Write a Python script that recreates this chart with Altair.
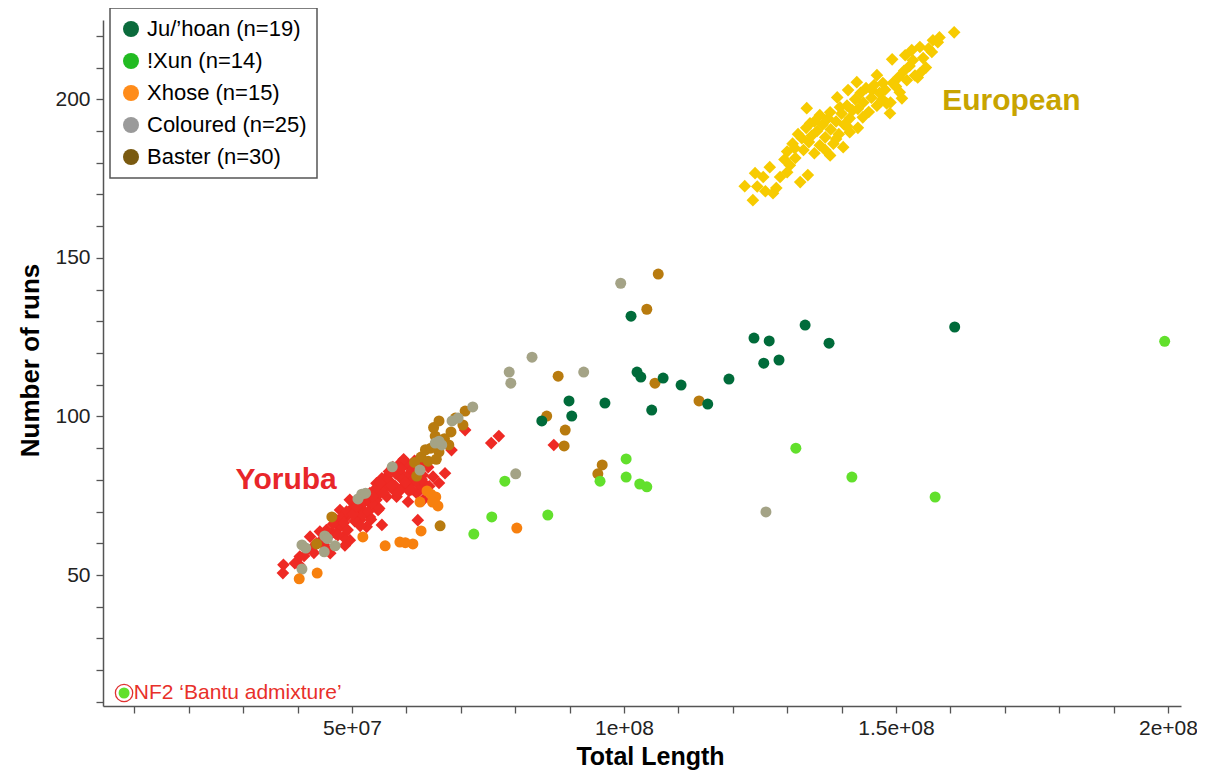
import altair as alt
import pandas as pd

# ---------------- data (Total Length in Mb, Number of runs) ----------------
GROUPS = ["Ju/’hoan (n=19)", "!Xun (n=14)", "Xhose (n=15)", "Coloured (n=25)", "Baster (n=30)"]
POINT_COLORS = ["#006b3a", "#62e02c", "#f7800e", "#a4a386", "#b87b0f"]
LEGEND_COLORS = ["#0b6b3c", "#22bb22", "#ff8c1a", "#9a9a9a", "#7a5a10"]

JU_X = [101.3, 102.4, 103.1, 107.2, 110.5, 119.3, 115.4, 105.1, 96.5, 89.9, 90.4, 84.9,
        133.3, 123.9, 126.7, 137.7, 125.7, 128.5, 160.8]
JU_Y = [131.6, 114.0, 112.4, 112.1, 109.9, 111.8, 103.9, 102.0, 104.2, 104.9, 100.1, 98.6,
        128.8, 124.7, 123.8, 123.1, 116.8, 117.8, 128.2]

XUN_X = [72.4, 75.7, 86.0, 78.1, 95.6, 100.4, 100.4, 102.9, 104.2, 131.6, 141.9, 157.2, 199.4, 8.1]
XUN_Y = [62.9, 68.3, 68.9, 79.6, 79.6, 86.6, 80.9, 78.7, 77.8, 90.0, 80.9, 74.6, 123.7, 12.8]

XH_X = [40.3, 43.6, 52.0, 56.1, 58.8, 61.2, 62.7, 63.8, 65.4, 65.8, 62.5, 80.3, 64.5, 64.8, 59.8]
XH_Y = [48.8, 50.6, 62.0, 59.2, 60.4, 59.8, 63.9, 76.5, 74.6, 71.8, 73.0, 64.8, 75.5, 73.0, 60.2]

CO_X = [99.4, 83.1, 78.9, 79.2, 92.6, 72.2, 68.4, 65.3, 66.5, 80.1, 57.4, 62.5, 51.8, 51.1,
        45.0, 46.9, 40.8, 44.9, 40.8, 126.1, 66.0, 69.5, 45.5, 52.5, 41.5]
CO_Y = [142.0, 118.7, 114.0, 110.5, 114.0, 103.0, 98.6, 91.6, 91.0, 81.9, 84.1, 83.1, 75.5, 74.0,
        62.3, 59.2, 59.5, 57.3, 51.9, 69.9, 92.2, 99.5, 61.5, 75.8, 58.5]

BA_X = [106.3, 104.2, 87.9, 105.7, 113.8, 89.2, 89.0, 85.8, 96.0, 95.2, 70.8, 66.0, 70.4, 68.2,
        65.3, 67.8, 66.0, 62.7, 64.0, 61.9, 66.2, 46.3, 65.0, 67.0, 69.0, 63.5, 64.5, 43.5, 61.5, 65.5]
BA_Y = [144.9, 133.8, 112.7, 110.5, 104.9, 95.7, 90.7, 100.1, 84.7, 81.9, 101.7, 98.6, 97.3, 95.1,
        93.8, 91.0, 88.8, 87.2, 85.9, 81.2, 65.5, 68.3, 96.5, 93.0, 99.5, 89.5, 90.0, 59.8, 85.5, 86.5]

YO_X = [37.4, 37.3, 40.3, 40.4, 41.7, 42.9, 44.4, 45.3, 46.3, 47.8, 48.7, 49.0, 50.9, 51.5, 53.3,
        52.7, 55.5, 54.5, 56.4, 57.6, 58.8, 60.1, 59.4, 61.3, 61.9, 63.1, 64.9, 67.1, 68.3, 70.8,
        75.6, 77.0, 87.1, 58.2, 56.4, 54.5, 51.5, 49.6, 47.8, 47.2, 45.3, 43.5, 39.5, 42.3, 44.1,
        53.3, 55.1, 60.3, 57.6, 54.8, 51.5, 49.6, 46.0, 48.4, 62.5, 60.3, 58.8, 62.1, 53.3, 52.0,
        57.0, 58.0, 59.0, 60.0, 61.0, 62.0, 63.0, 58.5, 60.5, 62.5, 56.0, 57.5, 59.5, 64.0, 61.5,
        63.5, 55.5, 66.0, 50.0, 51.0, 52.0, 53.0, 52.5, 54.0, 50.5, 49.0, 51.5, 48.0, 53.5, 55.0,
        46.5, 47.0, 56.5, 58.0, 59.8, 61.0, 57.2, 55.8, 54.2, 52.2, 50.2, 48.5, 45.0, 43.0, 41.2,
        62.8, 64.2, 59.0, 56.8, 55.2, 53.8, 50.8, 49.2, 47.4, 44.8]
YO_Y = [53.2, 50.6, 53.2, 55.8, 57.9, 58.9, 61.0, 58.4, 63.2, 65.2, 59.3, 68.4, 69.5, 71.5, 72.6,
        65.2, 65.8, 78.9, 81.0, 83.1, 85.2, 81.0, 77.8, 80.0, 75.8, 73.7, 81.0, 82.1, 89.4, 95.7,
        91.6, 93.8, 91.0, 74.7, 74.7, 73.7, 74.7, 73.7, 70.5, 67.3, 64.2, 60.0, 53.7, 62.1, 63.7,
        75.8, 75.8, 73.1, 76.8, 70.5, 67.3, 61.0, 56.9, 62.1, 84.7, 84.7, 82.5, 67.3, 68.3, 70.5,
        79.5, 78.0, 80.5, 78.5, 83.0, 79.0, 81.5, 76.0, 76.5, 77.0, 77.5, 84.0, 86.5, 84.0, 86.0,
        78.5, 80.5, 79.0, 71.0, 72.5, 69.0, 70.0, 74.0, 72.0, 67.0, 70.0, 65.5, 68.0, 67.5, 71.0,
        66.0, 63.0, 80.0, 82.0, 79.2, 77.0, 78.2, 76.0, 77.0, 73.0, 69.2, 66.5, 61.0, 57.0, 56.0,
        80.2, 78.0, 83.5, 82.6, 79.0, 74.8, 71.6, 64.2, 62.6, 59.6]

EU_X = [160.7, 157.7, 156.6, 156.8, 154.4, 152.9, 151.7, 153.1, 149.3, 154.4, 154.0, 146.5, 147.6,
        145.6, 149.4, 150.7, 151.1, 148.3, 148.9, 142.8, 141.2, 139.2, 139.7, 137.9, 136.0, 133.6,
        143.9, 141.5, 140.3, 137.9, 134.2, 132.7, 131.4, 130.5, 133.8, 132.4, 126.8, 125.6, 124.1,
        122.2, 123.7, 127.4, 128.7,
        129.5, 130.0, 131.0, 131.5, 132.0, 133.0, 133.5, 134.0, 134.5, 135.0, 135.5, 136.0, 136.5,
        137.0, 137.5, 138.0, 138.5, 139.0, 139.5, 140.0, 140.5, 141.0, 141.5, 142.0, 142.5, 143.0,
        143.5, 144.0, 144.5, 145.0, 145.5, 146.0, 146.5, 147.0, 147.5, 148.0, 149.0, 150.0, 150.5,
        151.5, 152.0, 152.5, 153.5, 155.0, 155.5, 156.0, 158.0, 130.0, 128.0, 126.0, 124.5, 135.0,
        137.0, 139.0, 143.0, 141.0]
EU_Y = [221.1, 218.0, 214.9, 218.6, 216.5, 215.5, 213.9, 212.3, 212.6, 208.2, 206.9, 207.6, 205.1,
        202.9, 205.1, 202.2, 200.3, 198.7, 195.6, 205.4, 202.9, 200.6, 197.5, 195.9, 195.0, 197.2,
        194.3, 189.6, 184.9, 182.3, 192.4, 187.7, 184.6, 179.2, 176.1, 173.9, 178.6, 175.5, 176.7,
        172.6, 168.2, 170.4, 175.5,
        181.0, 183.5, 186.0, 181.5, 189.0, 184.0, 191.0, 186.5, 188.5, 193.0, 190.0, 185.5, 192.0,
        188.0, 194.0, 190.5, 186.0, 193.0, 189.0, 195.5, 192.0, 198.0, 194.0, 196.5, 200.0, 197.0,
        202.0, 199.0, 203.5, 196.0, 200.5, 204.5, 198.0, 202.0, 200.0, 203.0, 199.0, 204.0, 207.0,
        209.0, 206.0, 210.5, 207.5, 213.0, 210.0, 216.0, 219.5, 177.0, 172.0, 171.0, 172.5, 183.0,
        184.0, 187.5, 191.0, 191.5]

# annotations (Mb, runs)
LABELS = ["European", "Yoruba", "NF2 ‘Bantu admixture’"]
LABEL_X = [158.5, 37.9, 9.9]
LABEL_Y = [199.4, 80.0, 12.8]
NF2_INDEX = 13  # NF2 is the last !Xun sample

# axis ticks
X_TICKS = [10e6, 20e6, 30e6, 40e6, 50e6, 60e6, 70e6, 80e6, 90e6, 100e6, 110e6, 120e6, 130e6,
           140e6, 150e6, 160e6, 170e6, 180e6, 190e6, 200e6]
X_LABEL_VALUES = [50e6, 100e6, 150e6, 200e6]
X_LABEL_TEXT = ["5e+07", "1e+08", "1.5e+08", "2e+08"]
Y_TICKS = [10, 20, 30, 40, 50, 60, 70, 80, 90, 100, 110, 120, 130, 140, 150, 160, 170, 180,
           190, 200, 210, 220]

MB = 1e6

def frame(xs, ys, group=None):
    d = pd.DataFrame({"x": [v * MB for v in xs], "y": ys})
    if group is not None:
        d["group"] = group
    return d

# draw order: Baster, Coloured, Xhose, !Xun, Ju/'hoan
circ = pd.concat([
    frame(BA_X, BA_Y, GROUPS[4]),
    frame(CO_X, CO_Y, GROUPS[3]),
    frame(XH_X, XH_Y, GROUPS[2]),
    frame(XUN_X, XUN_Y, GROUPS[1]),
    frame(JU_X, JU_Y, GROUPS[0]),
], ignore_index=True)
eu = frame(EU_X, EU_Y)
yo = frame(YO_X, YO_Y)
nf2 = frame([XUN_X[NF2_INDEX]], [XUN_Y[NF2_INDEX]])
lab = pd.DataFrame({"x": [v * MB for v in LABEL_X], "y": LABEL_Y, "text": LABELS})

FONT = "Liberation Sans"
x_expr = " : ".join(f"datum.value == {int(v)} ? '{t}'" for v, t in zip(X_LABEL_VALUES, X_LABEL_TEXT)) + " : ''"

X = alt.X("x:Q", title="Total Length",
          scale=alt.Scale(domain=[4.23e6, 2.024e8], nice=False, zero=False),
          axis=alt.Axis(values=X_TICKS, labelExpr=x_expr, grid=False, labelOverlap=False,
                        domainColor="#555555", domainWidth=1.5, tickColor="#555555", tickWidth=1.3,
                        tickSize=7, labelFont=FONT, labelFontSize=21, labelColor="#222222",
                        labelPadding=4, titleFont=FONT, titleFontSize=25, titleFontWeight="bold",
                        titleColor="black", titleX=547, titleY=50, titleAlign="center",
                        titleBaseline="middle"))
Y = alt.Y("y:Q", title="Number of runs",
          scale=alt.Scale(domain=[8.7, 225], nice=False, zero=False),
          axis=alt.Axis(values=Y_TICKS, labelExpr="datum.value % 50 === 0 ? datum.label : ''",
                        grid=False, labelOverlap=False,
                        domainColor="#555555", domainWidth=1.5, tickColor="#555555", tickWidth=1.3,
                        tickSize=7, labelFont=FONT, labelFontSize=21, labelColor="#222222",
                        labelPadding=6, titleFont=FONT, titleFontSize=26, titleFontWeight="bold",
                        titleColor="black", titleX=-73, titleY=340, titleAngle=-90,
                        titleAlign="center", titleBaseline="middle"))

european = alt.Chart(eu).mark_point(shape="diamond", filled=True, size=160, opacity=1,
                                    color="#f7cb00").encode(x=X, y=Y)
yoruba = alt.Chart(yo).mark_point(shape="diamond", filled=True, size=160, opacity=1,
                                  color="#ee2a24").encode(x=X, y=Y)
points = alt.Chart(circ).mark_circle(size=121, opacity=1).encode(
    x=X, y=Y,
    color=alt.Color("group:N", scale=alt.Scale(domain=GROUPS, range=POINT_COLORS), legend=None),
)
legend_layer = alt.Chart(circ).transform_filter("false").mark_circle(size=121, opacity=1).encode(
    x=X, y=Y,
    color=alt.Color("group:N", scale=alt.Scale(domain=GROUPS, range=LEGEND_COLORS),
                    legend=alt.Legend(title=None, orient="none", legendX=7, legendY=-12,
                                      direction="vertical", symbolType="circle", symbolSize=256,
                                      symbolStrokeWidth=0, symbolOpacity=1,
                                      labelFont=FONT, labelFontSize=22, labelColor="black",
                                      labelOffset=5, rowPadding=10, padding=10,
                                      strokeColor="#555555", fillColor="white")),
)
ring = alt.Chart(nf2).mark_point(shape="circle", filled=False, size=300, color="#e03030",
                                 strokeWidth=1.3, opacity=1).encode(x=X, y=Y)

eu_text = alt.Chart(lab).transform_filter(alt.datum.text == LABELS[0]).mark_text(
    align="left", baseline="middle", font=FONT, fontSize=30, fontWeight="bold", color="#c8a400"
).encode(x=X, y=Y, text="text:N")
yo_text = alt.Chart(lab).transform_filter(alt.datum.text == LABELS[1]).mark_text(
    align="center", baseline="middle", font=FONT, fontSize=30, fontWeight="bold", color="#e8262a"
).encode(x=X, y=Y, text="text:N")
nf2_text = alt.Chart(lab).transform_filter(alt.datum.text == LABELS[2]).mark_text(
    align="left", baseline="middle", font=FONT, fontSize=21, color="#e8302a"
).encode(x=X, y=Y, text="text:N")

chart = alt.layer(european, yoruba, points, legend_layer, ring, eu_text, yo_text, nf2_text).resolve_scale(
    color="independent"
).properties(
    width=1078, height=686,
    autosize=alt.AutoSizeParams(type="none"),
    padding={"left": 95, "top": 12, "right": 16, "bottom": 65},
).configure_view(stroke=None).configure_legend(strokeWidth=1.5, cornerRadius=0)

chart.save("out.html", embed_options={"renderer": "svg", "actions": False})
